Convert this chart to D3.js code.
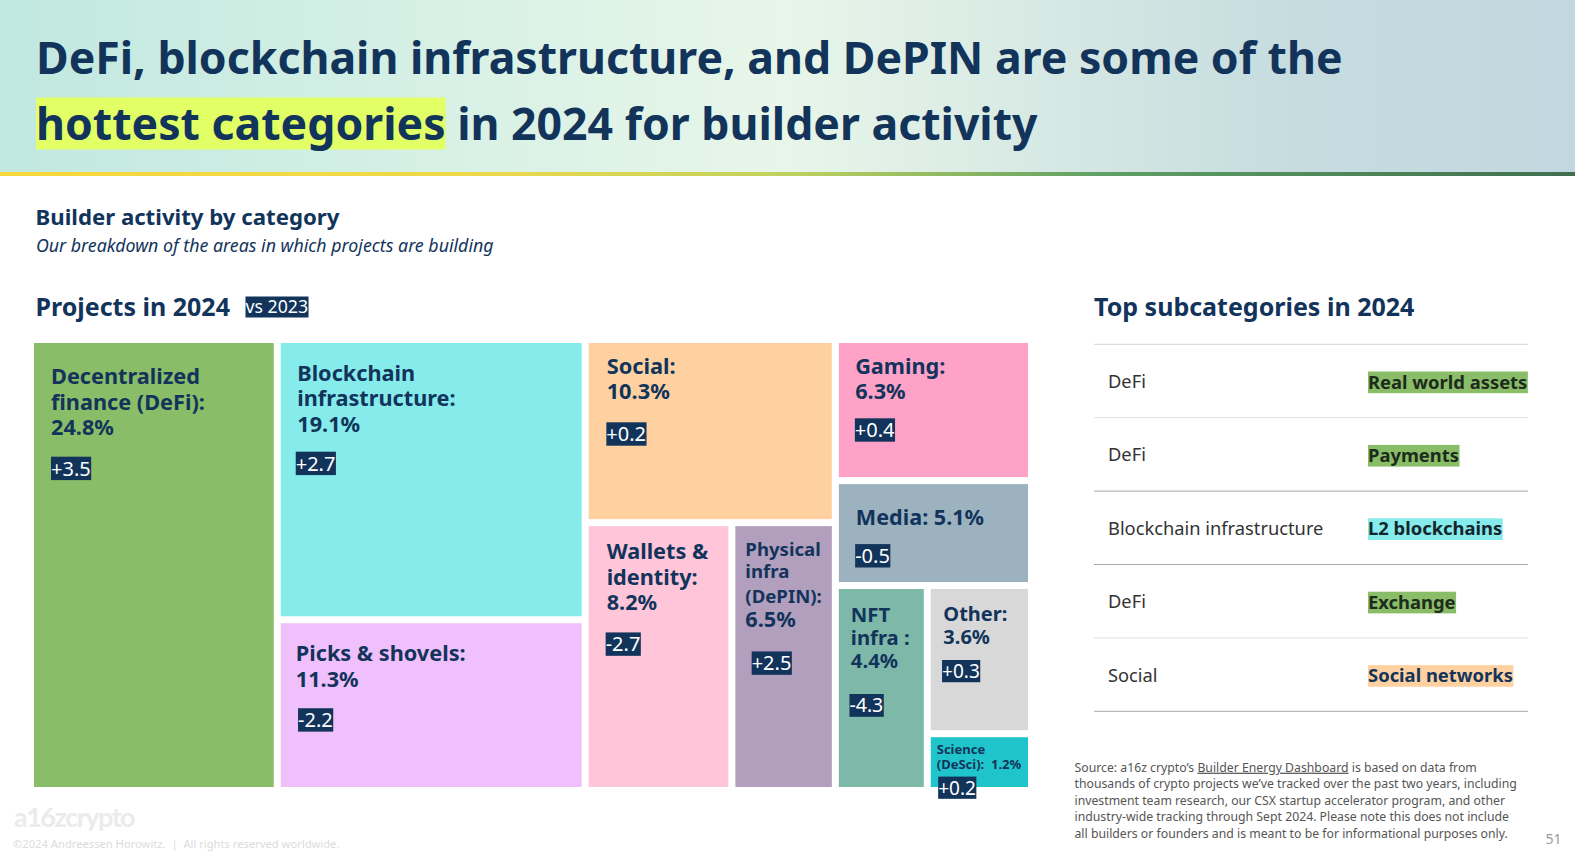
<!DOCTYPE html>
<html>
<head>
<meta charset="utf-8">
<script src="https://cdn.jsdelivr.net/npm/d3@7"></script>
<style>
  body { margin: 0; background: #fff; }
  svg { display: block; font-family: "Noto Sans", sans-serif; }
  text { white-space: pre; }
</style>
</head>
<body>
<div id="chart"></div>
<script>
// Treemap data
const categories = ["DeFi", "Blockchain", "Picks", "Social", "Wallets", "Physical", "Gaming", "Media", "NFT", "Other", "Science"];
const shares = [24.8, 19.1, 11.3, 10.3, 8.2, 6.5, 6.3, 5.1, 4.4, 3.6, 1.2];
const deltas = [3.5, 2.7, -2.2, 0.2, -2.7, 2.5, 0.4, -0.5, -4.3, 0.3, 0.2];
// # is replaced by the share
const labelLines = [
    ["Decentralized", "finance (DeFi):", "#"],
    ["Blockchain", "infrastructure:", "#"],
    ["Picks & shovels:", "#"],
    ["Social:", "#"],
    ["Wallets &", "identity:", "#"],
    ["Physical", "infra", "(DePIN):", "#"],
    ["Gaming:", "#"],
    ["Media: #"],
    ["NFT", "infra :", "#"],
    ["Other:", "#"],
    ["Science", "(DeSci):  #"]
];
const cellColors = ["#8abd68", "#85ebeb", "#f0c0fc", "#ffd1a1", "#ffc6da", "#b29fbe", "#ffa2c8", "#9cb2bf", "#7eb8a8", "#d8d8d8", "#20c4cb"];

// Right hand table
const subParents = ["DeFi", "DeFi", "Blockchain infrastructure", "DeFi", "Social"];
const subNames = ["Real world assets", "Payments", "L2 blockchains", "Exchange", "Social networks"];
const subColors = ["#8abd68", "#8abd68", "#85ebeb", "#8abd68", "#ffd1a1"];
const subInk = ["#1c2b1c", "#1c2b1c", "#12262b", "#1c2b1c", "#12345b"];
const ruleColors = ["#d4d4d4", "#e0e0e0", "#a8a8a8", "#a8a8a8", "#e0e0e0", "#a8a8a8"];

const sourceLines = [
    "thousands of crypto projects we’ve tracked over the past two years, including",
    "investment team research, our CSX startup accelerator program, and other",
    "industry-wide tracking through Sept 2024. Please note this does not include",
    "all builders or founders and is meant to be for informational purposes only."
];

const navy = "#12345b";
const width = 1575, height = 857;

const svg = d3.select("#chart").append("svg")
    .attr("width", width)
    .attr("height", height);

const defs = svg.append("defs");

function addGradient(id, stops) {
    defs.append("linearGradient").attr("id", id)
        .selectAll("stop").data(stops).join("stop")
        .attr("offset", d => d[0])
        .attr("stop-color", d => d[1]);
}
addGradient("bandFill", [[0, "#c0e8e0"], [0.3, "#d9f1e6"], [0.5, "#e8f6e9"], [0.82, "#c6dcdf"], [1, "#c2d8e0"]]);
addGradient("barFill", [[0, "#f8d73c"], [0.3, "#eed94a"], [0.5, "#bfd25e"], [0.7, "#5ea065"], [1, "#3f6f4f"]]);

// Header band
svg.append("rect").attr("width", width).attr("height", 172).attr("fill", "url(#bandFill)");
svg.append("rect").attr("y", 172).attr("width", width).attr("height", 4).attr("fill", "url(#barFill)");

function addText(x, y, txt, size, opts = {}) {
    return svg.append("text")
        .attr("x", x).attr("y", y)
        .attr("font-size", size)
        .attr("font-weight", opts.weight || 400)
        .attr("font-style", opts.style || null)
        .attr("fill", opts.fill || navy)
        .text(txt);
}

addText(36, 74, "DeFi, blockchain infrastructure, and DePIN are some of the", 44.6, {weight: 700});

// highlighted words sit on a box as wide as the text
const hot = addText(36, 140, "hottest categories", 44.6, {weight: 700});
const hotWidth = hot.node().getComputedTextLength();
svg.insert("rect", "text:last-of-type")
    .attr("x", 36).attr("y", 97.5)
    .attr("width", hotWidth).attr("height", 52)
    .attr("fill", "#e2ff66");
addText(36 + hotWidth, 140, " in 2024 for builder activity", 44.6, {weight: 700});

addText(35.5, 225, "Builder activity by category", 22.2, {weight: 700});
addText(36, 252, "Our breakdown of the areas in which projects are building", 17.8, {style: "italic"});
addText(35.5, 316, "Projects in 2024", 25, {weight: 700});

function addChip(parent, x, y, txt, size, h) {
    let g = parent.append("g").attr("transform", `translate(${x},${y})`);
    let rect = g.append("rect").attr("height", h).attr("fill", navy);
    let label = g.append("text")
        .attr("y", h / 2 + size * 0.36)
        .attr("font-size", size)
        .attr("fill", "#fff")
        .text(txt);
    rect.attr("width", label.node().getComputedTextLength() + 0.5);
}
addChip(svg, 245.5, 296.5, "vs 2023", 17.7, 21);

// Treemap. The boxes on the slide were sized by hand, so they are not
// exactly to scale: these factors nudge the split of each group.
const splitBias = new Map([
    ["col2", 1.018], ["col3", 1.006], ["col4", 0.957],
    ["Picks", 1.03], ["col3low", 1.025],
    ["Physical", 0.89],
    ["Gaming", 0.98], ["Media", 0.9], ["col4low", 0.975],
    ["otherStack", 1.04], ["Science", 1.15]
]);

function leaf(name) {
    return {name: name, value: shares[categories.indexOf(name)]};
}
const treeData = {
    name: "root",
    children: [
        {name: "col1", children: [leaf("DeFi")]},
        {name: "col2", children: [leaf("Blockchain"), leaf("Picks")]},
        {name: "col3", children: [
            leaf("Social"),
            {name: "col3low", children: [leaf("Wallets"), leaf("Physical")]}
        ]},
        {name: "col4", children: [
            leaf("Gaming"),
            leaf("Media"),
            {name: "col4low", children: [
                leaf("NFT"),
                {name: "otherStack", children: [leaf("Other"), leaf("Science")]}
            ]}
        ]}
    ]
};

// even depths split across, odd depths split down
function columnTile(node, x0, y0, x1, y1) {
    let across = node.depth % 2 === 0;
    let weights = node.children.map(c => c.value * (splitBias.get(c.data.name) || 1));
    let pos = d3.scaleLinear()
        .domain([0, d3.sum(weights)])
        .range(across ? [x0, x1] : [y0, y1]);
    let run = 0;
    node.children.forEach((c, i) => {
        let a = pos(run);
        run += weights[i];
        let b = pos(run);
        c.x0 = across ? a : x0;
        c.x1 = across ? b : x1;
        c.y0 = across ? y0 : a;
        c.y1 = across ? y1 : b;
    });
}

const root = d3.hierarchy(treeData).sum(d => d.value);
d3.treemap().tile(columnTile).size([994, 444]).paddingInner(7)(root);

const map = svg.append("g").attr("transform", "translate(34,343)");

// text placement inside each box: left, baselines, chip left, chip top
const labelPlace = {
    DeFi:       {x: 17, ys: [41, 66.7, 92], size: 21.7, cx: 17, cy: 113.7, cs: 20},
    Blockchain: {x: 16.5, ys: [38, 63.3, 89], size: 21.7, cx: 15, cy: 108.7, cs: 20},
    Picks:      {x: 15, ys: [38, 64], size: 21.7, cx: 17.3, cy: 85, cs: 20},
    Social:     {x: 18, ys: [31, 56.3], size: 21.8, cx: 17.7, cy: 79.3, cs: 20},
    Wallets:    {x: 18, ys: [33, 58.7, 84], size: 21.7, cx: 17, cy: 106.3, cs: 20},
    Physical:   {x: 10, ys: [30.3, 52, 76.7, 101.3], size: 18.6, lastSize: 21.7, cx: 16.3, cy: 125.3, cs: 20},
    Gaming:     {x: 16.3, ys: [31, 56], size: 21.7, cx: 16, cy: 75.3, cs: 20},
    Media:      {x: 17, ys: [40.8], size: 21.6, cx: 16.3, cy: 60, cs: 20},
    NFT:        {x: 12, ys: [33.3, 56, 79], size: 20.3, cx: 10.6, cy: 105, cs: 19.5},
    Other:      {x: 12.6, ys: [32, 54.7], size: 20, cx: 11.3, cy: 71, cs: 19},
    Science:    {x: 6, ys: [16.7, 31.7], size: 13, cx: 7.4, cy: 39.4, cs: 19}
};

const fmtShare = d3.format(".1f");
const fmtDelta = d3.format("+.1f");

const cells = map.selectAll("g.cell")
    .data(root.leaves())
    .join("g")
    .attr("class", "cell")
    .attr("transform", d => `translate(${d.x0},${d.y0})`);

cells.append("rect")
    .attr("width", d => d.x1 - d.x0)
    .attr("height", d => d.y1 - d.y0)
    .attr("fill", d => cellColors[categories.indexOf(d.data.name)]);

// labels go on top of every box (the DeSci chip hangs over the edge)
cells.each(function(d) {
    let i = categories.indexOf(d.data.name);
    let place = labelPlace[d.data.name];
    let g = d3.select(this);
    labelLines[i].forEach((line, j) => {
        let isLast = j === labelLines[i].length - 1;
        g.append("text")
            .attr("x", place.x)
            .attr("y", place.ys[j])
            .attr("font-size", isLast && place.lastSize ? place.lastSize : place.size)
            .attr("font-weight", 700)
            .attr("fill", navy)
            .text(line.replace("#", fmtShare(shares[i]) + "%"));
    });
    addChip(g, place.cx, place.cy, fmtDelta(deltas[i]).replace("−", "-"), place.cs, place.cs * 1.17);
});

// Right hand table
addText(1094, 315.5, "Top subcategories in 2024", 25, {weight: 700});

const rowY = d3.scaleLinear().domain([0, 5]).range([344.3, 711.3]);
const rowMid = i => (rowY(i) + rowY(i + 1)) / 2;

svg.selectAll("line.rule")
    .data(ruleColors)
    .join("line")
    .attr("class", "rule")
    .attr("x1", 1094).attr("x2", 1528)
    .attr("y1", (d, i) => rowY(i))
    .attr("y2", (d, i) => rowY(i))
    .attr("stroke", d => d)
    .attr("stroke-width", 1);

subNames.forEach((name, i) => {
    addText(1108, rowMid(i) + 7, subParents[i], 18.3, {fill: "#333"});
    let chip = svg.append("g").attr("transform", `translate(1368,${rowMid(i) - 9.5})`);
    let rect = chip.append("rect").attr("height", 21.7).attr("fill", subColors[i]);
    let label = chip.append("text")
        .attr("y", 17)
        .attr("font-size", 18.4)
        .attr("font-weight", 700)
        .attr("fill", subInk[i])
        .text(name);
    rect.attr("width", label.node().getComputedTextLength() + 0.5);
});

// Source note
const lineY = d3.scaleLinear().domain([0, 4]).range([771.7, 837.7]);
const note = addText(1074.5, lineY(0), "Source: a16z crypto’s ", 12.25, {fill: "#555"});
note.append("tspan").attr("text-decoration", "underline").text("Builder Energy Dashboard");
note.append("tspan").text(" is based on data from");
sourceLines.forEach((line, i) => addText(1074.5, lineY(i + 1), line, 12.25, {fill: "#555"}));

addText(1545.5, 844, "51", 14, {fill: "#9a9a9a"});

// Footer
svg.append("text")
    .attr("x", 14).attr("y", 827)
    .attr("font-family", "Lato, sans-serif")
    .attr("font-size", 27)
    .attr("font-weight", 700)
    .attr("letter-spacing", -1.5)
    .attr("fill", "#ebebeb")
    .text("a16zcrypto");
addText(13, 848, "©2024 Andreessen Horowitz.  |  All rights reserved worldwide.", 11.2, {fill: "#dcdcdc"});
</script>
</body>
</html>
